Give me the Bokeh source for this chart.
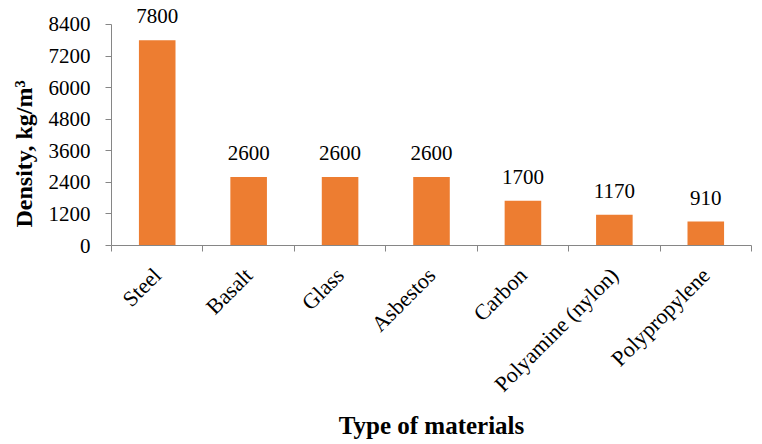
from math import pi
from bokeh.plotting import figure
from bokeh.models import ColumnDataSource, Range1d, FixedTicker, Title
from bokeh.core.properties import value
from bokeh.embed import file_html
from bokeh.resources import INLINE

materials = ["Steel", "Basalt", "Glass", "Asbestos", "Carbon", "Polyamine (nylon)", "Polypropylene"]
density = [7800, 2600, 2600, 2600, 1700, 1170, 910]
y_ticks = [0, 1200, 2400, 3600, 4800, 6000, 7200, 8400]
x_title = "Type of materials"
y_title = "Density, kg/m³"

FONT = "Liberation Serif"
n = len(materials)
centers = [i + 0.5 for i in range(n)]
src = ColumnDataSource(dict(x=centers, top=density, lab=[str(v) for v in density]))

p = figure(width=762, height=444, output_backend="svg", toolbar_location=None,
           x_range=Range1d(0, n), y_range=Range1d(0, 9312),
           min_border_left=110, min_border_right=11, min_border_top=0, min_border_bottom=199)
p.outline_line_color = None
p.grid.visible = False
p.background_fill_color = "white"
p.border_fill_color = "white"

p.vbar(x="x", top="top", width=0.4, bottom=0, source=src,
       fill_color="#ED7D31", line_color=None)
p.text(x="x", y="top", text="lab", source=src, text_align="center",
       text_baseline="alphabetic", y_offset=-24,
       text_font=value(FONT), text_font_size="21px", text_color="black")

ax = p.xaxis[0]
ax.ticker = FixedTicker(ticks=centers, minor_ticks=list(range(n + 1)))
ax.major_label_overrides = {c: m for c, m in zip(centers, materials)}
ax.major_label_orientation = pi / 4
ax.major_tick_out = 0
ax.major_tick_in = 0
ax.minor_tick_out = 6
ax.minor_tick_in = 0
ax.minor_tick_line_color = "#868686"
ax.axis_line_color = "#868686"
ax.major_label_text_font = FONT
ax.major_label_text_font_size = "22px"
ax.major_label_text_color = "black"
ax.major_label_standoff = 20
ax.axis_label = x_title
ax.axis_label_text_font = FONT
ax.axis_label_text_font_size = "25px"
ax.axis_label_text_font_style = "bold"
ax.axis_label_text_color = "black"
ax.axis_label_standoff = 4

ay = p.yaxis[0]
ay.ticker = FixedTicker(ticks=y_ticks, minor_ticks=[])
ay.bounds = (0, 8400)
ay.major_tick_out = 6
ay.major_tick_in = 0
ay.major_tick_line_color = "#868686"
ay.axis_line_color = "#868686"
ay.major_label_text_font = FONT
ay.major_label_text_font_size = "21px"
ay.major_label_text_color = "black"
ay.major_label_standoff = 15

yt = Title(text=y_title, align="left", offset=18, standoff=17,
           text_font=FONT, text_font_size="24px", text_font_style="bold",
           text_color="black")
p.add_layout(yt, "left")

open("out.html", "w").write(file_html(p, INLINE))
